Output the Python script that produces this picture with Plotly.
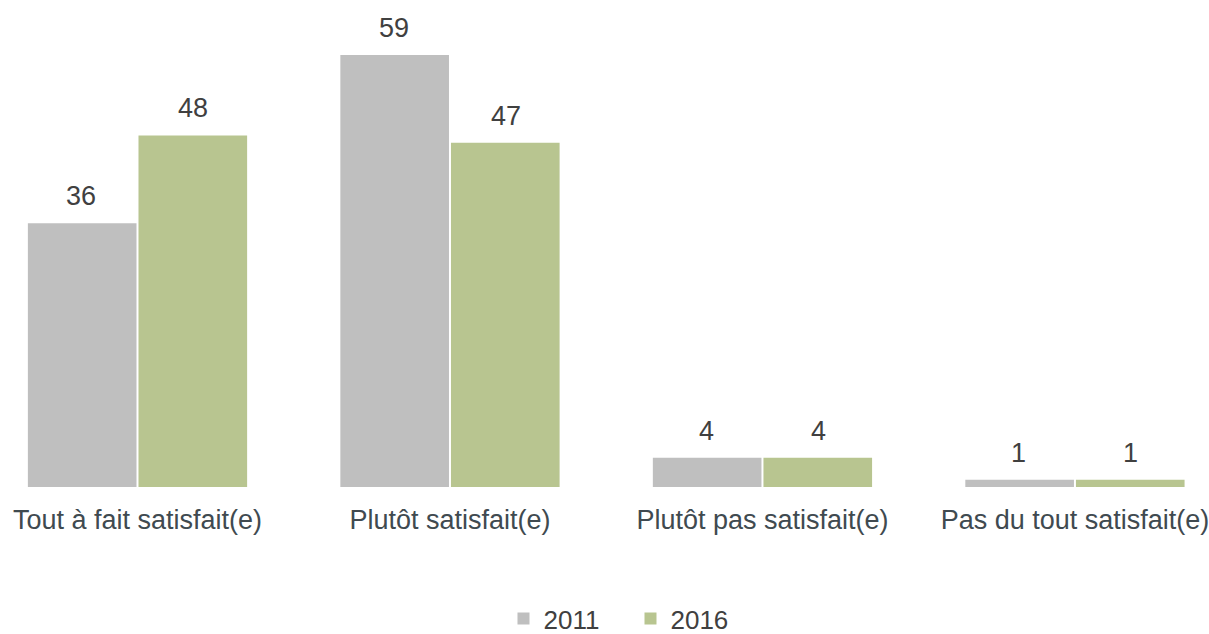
import plotly.graph_objects as go

categories = [
    "Tout à fait satisfait(e)",
    "Plutôt satisfait(e)",
    "Plutôt pas satisfait(e)",
    "Pas du tout satisfait(e)",
]
values_2011 = [36, 59, 4, 1]
values_2016 = [48, 47, 4, 1]
series_names = ["2011", "2016"]

GREY = "#bfbfbf"
GREEN = "#b8c590"
TEXT = "#404040"
FONT = "Liberation Sans, Arial, sans-serif"

fig = go.Figure()
for name, vals, col in zip(series_names, [values_2011, values_2016], [GREY, GREEN]):
    fig.add_trace(
        go.Bar(
            x=categories,
            y=vals,
            name=name,
            marker=dict(color=col, line_width=0),
            hoverinfo="skip",
        )
    )

# value labels above bars, offset left/right for each series
for shift, vals in zip([-56, 56], [values_2011, values_2016]):
    for cat, v in zip(categories, vals):
        fig.add_annotation(
            x=cat,
            y=v,
            text=str(v),
            showarrow=False,
            xshift=shift,
            yshift=10,
            yanchor="bottom",
            font=dict(family=FONT, size=27, color=TEXT),
        )

fig.update_layout(
    width=1209,
    height=634,
    barmode="group",
    bargap=0.292,
    bargroupgap=0.018,
    plot_bgcolor="white",
    paper_bgcolor="white",
    margin=dict(l=0, r=0, t=0, b=147, autoexpand=False),
    font=dict(family=FONT, size=26, color=TEXT),
    showlegend=True,
    legend=dict(
        orientation="h",
        x=0.5215,
        xanchor="center",
        y=-0.27,
        yanchor="middle",
        itemwidth=30,
        entrywidth=82,
        font=dict(size=26, color=TEXT),
    ),
)
fig.update_xaxes(
    range=[-0.44, 3.429],
    showgrid=False,
    showline=False,
    zeroline=False,
    ticks="",
    ticklabelstandoff=14,
    tickfont=dict(size=27, color="#404a50"),
)
fig.update_yaxes(
    range=[0, 66.5],
    visible=False,
    showgrid=False,
    zeroline=False,
)

fig.write_html(
    "out.html",
    config={"displayModeBar": False},
    post_script="document.body.style.margin='0';document.body.style.overflow='hidden';",
)
